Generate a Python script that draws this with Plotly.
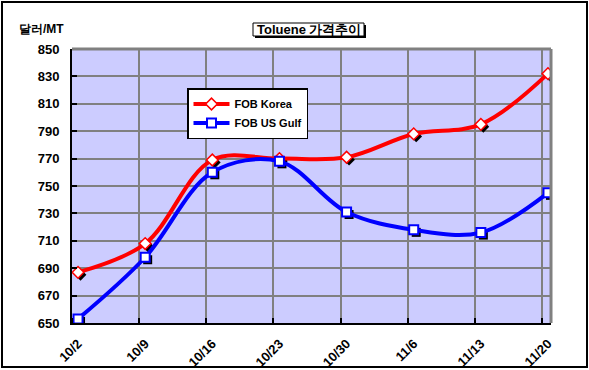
import plotly.graph_objects as go

categories = ["10/2", "10/9", "10/16", "10/23", "10/30", "11/6", "11/13", "11/20"]
fob_korea = [687, 708, 769, 770, 771, 788, 795, 832]
fob_us_gulf = [653, 698, 760, 768, 731, 718, 716, 745]
y_ticks = [650, 670, 690, 710, 730, 750, 770, 790, 810, 830, 850]

idx = list(range(len(categories)))

# plot area pixel geometry
L, R, T, B = 72, 551, 49, 323
W, H = 589, 370
x0r, x1r = -0.09, 7.045
y0r, y1r = 650, 850
pxu_x = (R - L) / (x1r - x0r)
pxu_y = (B - T) / (y1r - y0r)
sdx, sdy = 2.5 / pxu_x, 2.5 / pxu_y

font = "Liberation Sans, Arial, sans-serif"

fig = go.Figure()

# invisible trace anchoring the base axes (grid, ticks)
fig.add_trace(go.Scatter(x=idx, y=fob_korea, mode="markers", marker=dict(opacity=0),
                         showlegend=False, hoverinfo="skip"))

# marker shadows (on shifted overlay axes x2/y2)
fig.add_trace(go.Scatter(x=idx, y=fob_korea, mode="markers", xaxis="x2", yaxis="y2",
                         marker=dict(symbol="diamond", size=9, color="black"),
                         showlegend=False, hoverinfo="skip"))
fig.add_trace(go.Scatter(x=idx, y=fob_us_gulf, mode="markers", xaxis="x2", yaxis="y2",
                         marker=dict(symbol="square", size=9, color="black"),
                         showlegend=False, hoverinfo="skip"))

# main series on overlay axes x3/y3 (same range as base)
fig.add_trace(go.Scatter(x=idx, y=fob_korea, name="<b>FOB Korea</b>", mode="lines+markers",
                         xaxis="x3", yaxis="y3",
                         line=dict(color="#FF0000", width=4, shape="spline", smoothing=1),
                         marker=dict(symbol="diamond", size=9, color="white",
                                     line=dict(color="#FF0000", width=1.5))))
fig.add_trace(go.Scatter(x=idx, y=fob_us_gulf, name="<b>FOB US Gulf</b>", mode="lines+markers",
                         xaxis="x3", yaxis="y3",
                         line=dict(color="#0000FF", width=4, shape="spline", smoothing=1),
                         marker=dict(symbol="square", size=9, color="white",
                                     line=dict(color="#0000FF", width=2))))

def px(xp):
    return (xp - L) / (R - L)

def py(yp):
    return (B - yp) / (B - T)

shapes = [
    dict(type="rect", xref="paper", yref="paper", x0=px(2), x1=px(587), y0=py(367), y1=py(2),
         line=dict(color="black", width=2), layer="below"),
    dict(type="line", xref="paper", yref="paper", x0=0, x1=1, y0=1, y1=1,
         line=dict(color="#808080", width=3)),
    dict(type="line", xref="paper", yref="paper", x0=1, x1=1, y0=0, y1=1,
         line=dict(color="#808080", width=3)),
    dict(type="rect", xref="paper", yref="paper", x0=px(255), x1=px(366), y0=py(38), y1=py(25),
         fillcolor="black", line=dict(width=0)),
    dict(type="rect", xref="paper", yref="paper", x0=px(253), x1=px(364), y0=py(36), y1=py(23),
         fillcolor="white", line=dict(color="black", width=1)),
]

annotations = [
    dict(text="<b>Toluene 가격추이</b>", xref="paper", yref="paper", x=px(308.5), y=py(29.5),
         showarrow=False, font=dict(family=font, size=13, color="black"),
         xanchor="center", yanchor="middle"),
    dict(text="<b>달러/MT</b>", xref="paper", yref="paper", x=px(17), y=py(29),
         showarrow=False, font=dict(family=font, size=12, color="black"),
         xanchor="left", yanchor="middle"),
]

fig.update_layout(
    width=W, height=H,
    margin=dict(l=L, r=W - R, t=T, b=H - B, autoexpand=False),
    paper_bgcolor="white",
    plot_bgcolor="#CCCCFF",
    shapes=shapes,
    annotations=annotations,
    font=dict(family=font, color="black"),
    legend=dict(x=px(187), y=py(88), xanchor="left", yanchor="top",
                bgcolor="white", bordercolor="black", borderwidth=1.5,
                font=dict(family=font, size=11, color="black"),
                tracegroupgap=0, itemwidth=36),
    xaxis=dict(range=[x0r, x1r], tickmode="array", tickvals=idx,
               ticktext=[f"<b>{c}</b>" for c in categories], tickangle=-45,
               tickfont=dict(size=13, family=font), showgrid=False, ticks="",
               showline=True, linecolor="black", linewidth=2, zeroline=False,
               automargin=False, ticklabelstandoff=6,
               minor=dict(tickvals=[i - 0.09 for i in idx], showgrid=True,
                          gridcolor="#808080", gridwidth=2,
                          ticks="inside", ticklen=5, tickwidth=2, tickcolor="black")),
    yaxis=dict(range=[y0r, y1r], tickmode="array", tickvals=y_ticks,
               ticktext=[f"<b>{v}</b>" for v in y_ticks],
               tickfont=dict(size=13, family=font), showgrid=True,
               gridcolor="#808080", gridwidth=2, ticks="inside", ticklen=5,
               tickwidth=2, tickcolor="black", showline=True, linecolor="black",
               linewidth=2, zeroline=False, ticklabelstandoff=8, automargin=False),
    xaxis2=dict(range=[x0r - sdx, x1r - sdx], overlaying="x", visible=False),
    yaxis2=dict(range=[y0r + sdy, y1r + sdy], overlaying="y", visible=False),
    xaxis3=dict(range=[x0r, x1r], overlaying="x", visible=False),
    yaxis3=dict(range=[y0r, y1r], overlaying="y", visible=False),
)

fig.write_html("out.html", config={"displayModeBar": False},
               post_script="document.body.style.margin='0';")
